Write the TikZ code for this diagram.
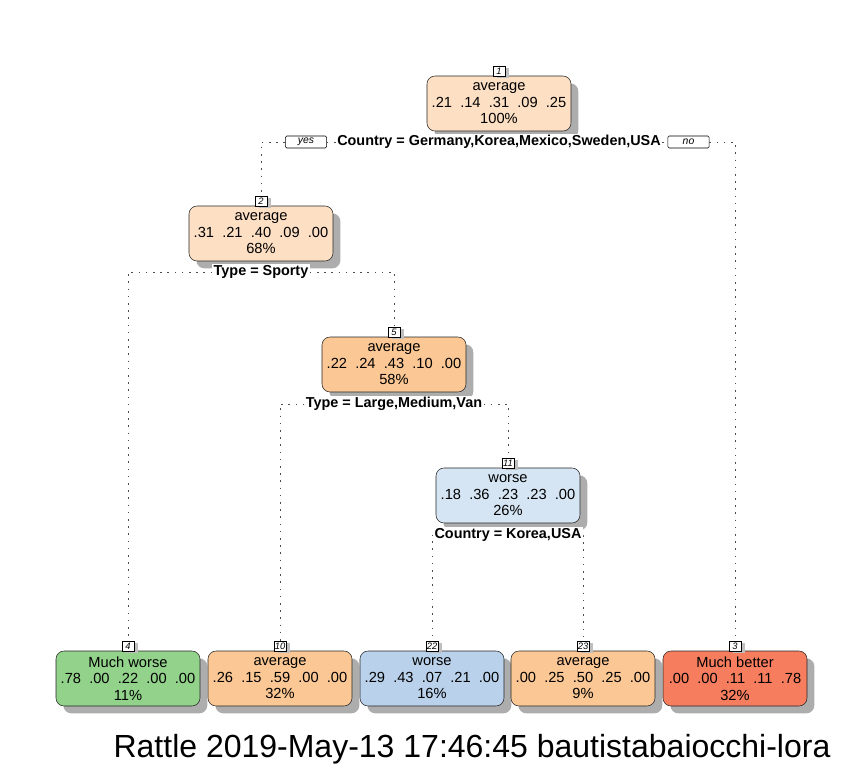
\documentclass[tikz,border=0pt]{standalone}
\usepackage{fontspec}
\setmainfont{Liberation Sans}
\usepackage{xcolor}
\usetikzlibrary{positioning,shadows}
\definecolor{peach}{RGB}{253,223,196}
\definecolor{orng}{RGB}{251,199,148}
\definecolor{paleblue}{RGB}{214,229,244}
\definecolor{midblue}{RGB}{186,209,235}
\definecolor{leafgreen}{RGB}{146,210,138}
\definecolor{salmon}{RGB}{246,125,94}
\tikzset{%
	treebox/.style  = {draw=black!85, rectangle, rounded corners=6pt, minimum width=108pt, minimum height=41.25pt, inner sep=0pt, align=center, font=\fontsize{11}{12.4}\selectfont, drop shadow={shadow xshift=5.5pt, shadow yshift=-5.5pt, fill=black!32, opacity=1}},
	tag/.style      = {draw, fill=white, rectangle, inner sep=0.6pt, minimum width=9pt, minimum height=7.5pt, font=\fontsize{7}{7}\itshape\selectfont, drop shadow={shadow xshift=3pt, shadow yshift=-1.5pt, fill=black!25, opacity=1}},
	splitlbl/.style = {fill=white, inner sep=1pt, font=\fontsize{10.8}{11}\bfseries\selectfont},
	yesno/.style    = {draw, fill=white, rectangle, rounded corners=1pt, minimum width=31pt, minimum height=9pt, inner sep=0pt, font=\fontsize{7.8}{8}\itshape\selectfont},
	branch/.style   = {draw=black!70, line width=0.7pt, dash pattern=on 1.2pt off 4.2pt},
}
\begin{document}
\begin{tikzpicture}[x=0.75pt,y=-0.75pt]
		\useasboundingbox (0,0) rectangle (864,768);
		\node[treebox, fill=peach] (n1) at (499,103.5) {average\\.21~~.14~~.31~~.09~~.25\\100\%};
		\node[treebox, fill=peach] (n2) at (261,233.5) {average\\.31~~.21~~.40~~.09~~.00\\68\%};
		\node[treebox, fill=orng] (n5) at (394,364.5) {average\\.22~~.24~~.43~~.10~~.00\\58\%};
		\node[treebox, fill=paleblue] (n11) at (508,495.5) {worse\\.18~~.36~~.23~~.23~~.00\\26\%};
		\node[treebox, fill=leafgreen] (n4) at (128,678.5) {Much worse\\.78~~.00~~.22~~.00~~.00\\11\%};
		\node[treebox, fill=orng] (n10) at (280,678.5) {average\\.26~~.15~~.59~~.00~~.00\\32\%};
		\node[treebox, fill=midblue] (n22) at (432,678.5) {worse\\.29~~.43~~.07~~.21~~.00\\16\%};
		\node[treebox, fill=orng] (n23) at (583,678.5) {average\\.00~~.25~~.50~~.25~~.00\\9\%};
		\node[treebox, fill=salmon] (n3) at (735,678.5) {Much better\\.00~~.00~~.11~~.11~~.78\\32\%};
		\node[tag, above=-0.5pt of n1] (t1) {1};
		\node[tag, above=-0.5pt of n2] (t2) {2};
		\node[tag, above=-0.5pt of n5] (t5) {5};
		\node[tag, above=-0.5pt of n11] (t11) {11};
		\node[tag, above=-0.5pt of n4] (t4) {4};
		\node[tag, above=-0.5pt of n10] (t10) {10};
		\node[tag, above=-0.5pt of n22] (t22) {22};
		\node[tag, above=-0.5pt of n23] (t23) {23};
		\node[tag, above=-0.5pt of n3] (t3) {3};
		\node[splitlbl] (s1) at (499,142) {Country = Germany,Korea,Mexico,Sweden,USA};
		\node[splitlbl] (s2) at (261,272) {Type = Sporty};
		\node[splitlbl] (s5) at (394,404) {Type = Large,Medium,Van};
		\node[splitlbl] (s11) at (508,535) {Country = Korea,USA};
		\node[yesno] (yes) at (306,142) {yes};
		\node[yesno] (no) at (688.5,142) {no};
		\draw[branch] (s1.west) -- (yes.east);
		\draw[branch] (yes.west) -| (t2.north);
		\draw[branch] (s1.east) -- (no.west);
		\draw[branch] (no.east) -| (t3.north);
		\draw[branch] (s2.west) -| (t4.north);
		\draw[branch] (s2.east) -| (t5.north);
		\draw[branch] (s5.west) -| (t10.north);
		\draw[branch] (s5.east) -| (t11.north);
		\draw[branch] (s11.west) -| (t22.north);
		\draw[branch] (s11.east) -| (t23.north);
		\node[anchor=base, font=\fontsize{24}{28}\selectfont] (title) at (472,757) {Rattle 2019-May-13 17:46:45 bautistabaiocchi-lora};
	\end{tikzpicture}
\end{document}
